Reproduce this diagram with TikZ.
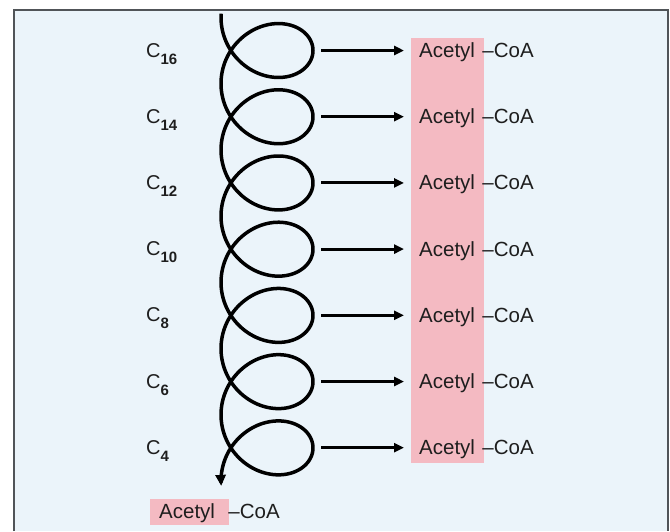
\documentclass[tikz,border=0pt]{standalone}
\usepackage{fontspec}
\setmainfont{Liberation Sans}
\usepackage{tikz}
\usetikzlibrary{arrows.meta,positioning}
\definecolor{bgblue}{RGB}{235,244,250}
\definecolor{acpink}{RGB}{244,186,194}
\definecolor{framegray}{RGB}{80,84,88}
\definecolor{inkdark}{RGB}{30,30,30}
\newcommand{\carb}[1]{C\raisebox{-7pt}{\fontsize{15}{15}\selectfont\bfseries #1}}

\begin{document}
\begin{tikzpicture}[
    x=1pt, y=-1pt,
    carbon/.style={anchor=base west, inner sep=0pt, font=\fontsize{20}{20}\selectfont, text=inkdark},
    acetyl/.style={anchor=base west, inner sep=0pt, text height=14pt, text depth=0pt, font=\fontsize{20.5}{20.5}\selectfont, text=inkdark},
    coa/.style={acetyl, anchor=west},
    arrow/.style={-{Triangle[length=10pt,width=9pt]}, line width=3pt, black},
    spiral/.style={-{Triangle[length=11pt,width=10pt]}, line width=3.5pt, black}
]
    \useasboundingbox (0,0) rectangle (670,531);

    % Panel
    \fill[bgblue] (14,10) rectangle (668,531);
    \draw[framegray, line width=2pt] (14,531) -- (14,10) -- (668,10) -- (668,531);

    % Pink highlights
    \fill[acpink] (411,38) rectangle (484,463);
    \fill[acpink] (150,499) rectangle (229,525);

    % Spiral of beta-oxidation rounds
    \draw[spiral] plot[domain=-0.07:44.08, samples=700] ({267-46*cos(\x r)}, {17.4+10.54*\x+42.2*sin(\x r)});

    % Chain lengths
    \node[carbon] (c16) at (146,57.0) {\carb{16}};
    \node[carbon] (c14) at (146,123.2) {\carb{14}};
    \node[carbon] (c12) at (146,189.4) {\carb{12}};
    \node[carbon] (c10) at (146,255.6) {\carb{10}};
    \node[carbon] (c8) at (146,321.8) {\carb{8}};
    \node[carbon] (c6) at (146,388.0) {\carb{6}};
    \node[carbon] (c4) at (146,454.2) {\carb{4}};

    % Acetyl-CoA released in each round
    \node[acetyl] (ac1) at (419,57.5) {Acetyl};
    \node[acetyl] (ac2) at (419,123.7) {Acetyl};
    \node[acetyl] (ac3) at (419,189.9) {Acetyl};
    \node[acetyl] (ac4) at (419,256.1) {Acetyl};
    \node[acetyl] (ac5) at (419,322.3) {Acetyl};
    \node[acetyl] (ac6) at (419,388.5) {Acetyl};
    \node[acetyl] (ac7) at (419,454.7) {Acetyl};
    \node[coa, right=7pt of ac1] (coa1) {--CoA};
    \node[coa, right=7pt of ac2] (coa2) {--CoA};
    \node[coa, right=7pt of ac3] (coa3) {--CoA};
    \node[coa, right=7pt of ac4] (coa4) {--CoA};
    \node[coa, right=7pt of ac5] (coa5) {--CoA};
    \node[coa, right=7pt of ac6] (coa6) {--CoA};
    \node[coa, right=7pt of ac7] (coa7) {--CoA};

    % Last acetyl-CoA at the end of the spiral
    \node[acetyl] (acB) at (159,518) {Acetyl};
    \node[coa, right=13pt of acB] (coaB) {--CoA};

    % Arrows from the loops
    \coordinate (r1) at (321,50.5);
    \coordinate (r2) at (321,116.7);
    \coordinate (r3) at (321,182.9);
    \coordinate (r4) at (321,249.1);
    \coordinate (r5) at (321,315.3);
    \coordinate (r6) at (321,381.5);
    \coordinate (r7) at (321,447.7);
    \draw[arrow] (r1) -- ([xshift=-15pt]ac1.west);
    \draw[arrow] (r2) -- ([xshift=-15pt]ac2.west);
    \draw[arrow] (r3) -- ([xshift=-15pt]ac3.west);
    \draw[arrow] (r4) -- ([xshift=-15pt]ac4.west);
    \draw[arrow] (r5) -- ([xshift=-15pt]ac5.west);
    \draw[arrow] (r6) -- ([xshift=-15pt]ac6.west);
    \draw[arrow] (r7) -- ([xshift=-15pt]ac7.west);

\end{tikzpicture}
\end{document}
